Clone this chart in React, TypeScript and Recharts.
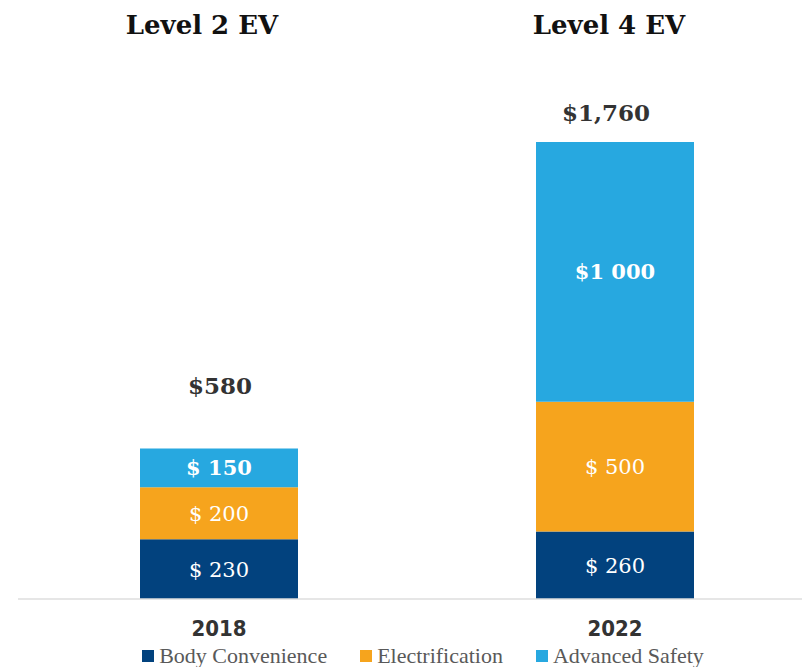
import React from "react";
import { BarChart, Bar, XAxis, YAxis, LabelList, Legend } from "recharts";

const years = ["2018", "2022"];
const titles = ["Level 2 EV", "Level 4 EV"];
const bodyConvenience = [230, 260];
const electrification = [200, 500];
const advancedSafety = [150, 1000];
const bodyLabels = ["$ 230", "$ 260"];
const elecLabels = ["$ 200", "$ 500"];
const safetyLabels = ["$ 150", "$1 000"];
const totalLabels = ["$580", "$1,760"];
const legendOrder = ["Body Convenience", "Electrification", "Advanced Safety"];

const NAVY = "#02427e";
const ORANGE = "#f6a41d";
const SKY = "#27a8e0";
const SERIF = "'DejaVu Serif', Georgia, serif";

// per-category nudges, the source chart isn't perfectly aligned
const titleShift = [-17, -6];
const totalShift = [1, -9];
const totalGap = [54, 21];

const data = years.map((year, i) => ({
  year,
  title: titles[i],
  body: bodyConvenience[i],
  elec: electrification[i],
  safety: advancedSafety[i],
  bodyLabel: bodyLabels[i],
  elecLabel: elecLabels[i],
  safetyLabel: safetyLabels[i],
  total: totalLabels[i],
}));

const TitleTick = (props: any) => {
  const { x, y, payload, index } = props;
  return (
    <text x={x + titleShift[index]} y={y} textAnchor="middle" fontFamily={SERIF} fontWeight="bold" fontSize={26} fill="#111">
      {payload.value}
    </text>
  );
};

const TotalLabel = (props: any) => {
  const { x, y, width, index, value } = props;
  return (
    <text x={x + width / 2 + totalShift[index]} y={y - totalGap[index]} textAnchor="middle" fontFamily={SERIF} fontWeight="bold" fontSize={23} fill="#333">
      {value}
    </text>
  );
};

const LegendContent = (props: any) => {
  const items = [...(props.payload || [])].sort(
    (a: any, b: any) => legendOrder.indexOf(a.value) - legendOrder.indexOf(b.value)
  );
  return (
    <div style={{ display: "flex", justifyContent: "center", gap: 33, fontFamily: "'Liberation Serif', serif", fontSize: 22, color: "#595959", lineHeight: "24px" }}>
      {items.map((p: any) => (
        <span key={p.value} style={{ display: "flex", alignItems: "center" }}>
          <span style={{ width: 12, height: 12, background: p.color, marginRight: 5, display: "inline-block" }} />
          {p.value}
        </span>
      ))}
    </div>
  );
};

const segLabel = (bold: boolean) => ({
  position: "center" as const,
  fill: "#fff",
  fontFamily: SERIF,
  fontSize: 21,
  fontWeight: bold ? "bold" : "normal",
});

export default function App() {
  return (
    <div style={{ position: "absolute", left: 0, top: 0, background: "#fff" }}>
      <BarChart width={802} height={667} data={data} margin={{ top: 42, right: -11, left: 18, bottom: 28 }}>
        <XAxis
          xAxisId="top"
          dataKey="title"
          orientation="top"
          height={100}
          axisLine={false}
          tickLine={false}
          tick={<TitleTick />}
          tickMargin={102}
          padding={{ left: 3, right: 0 }}
        />
        <XAxis
          dataKey="year"
          height={40}
          axisLine={{ stroke: "#dedede", strokeWidth: 1.5 }}
          tickLine={false}
          tickMargin={15}
          tick={{ fontFamily: "'Liberation Sans Narrow', 'DejaVu Sans Condensed', sans-serif", fontWeight: "bold", fontSize: 22, fill: "#333" }}
          padding={{ left: 3, right: 0 }}
        />
        <YAxis hide domain={[0, "dataMax"]} />
        <Legend
          verticalAlign="middle"
          layout="horizontal"
          wrapperStyle={{ top: 644, left: 22, width: 802 }}
          content={<LegendContent />}
        />
        <Bar dataKey="body" name="Body Convenience" stackId="a" fill={NAVY} barSize={158} isAnimationActive={false}>
          <LabelList dataKey="bodyLabel" {...segLabel(false)} />
        </Bar>
        <Bar dataKey="elec" name="Electrification" stackId="a" fill={ORANGE} barSize={158} isAnimationActive={false}>
          <LabelList dataKey="elecLabel" {...segLabel(false)} />
        </Bar>
        <Bar dataKey="safety" name="Advanced Safety" stackId="a" fill={SKY} barSize={158} isAnimationActive={false}>
          <LabelList dataKey="safetyLabel" {...segLabel(true)} />
          <LabelList dataKey="total" content={<TotalLabel />} />
        </Bar>
      </BarChart>
    </div>
  );
}
